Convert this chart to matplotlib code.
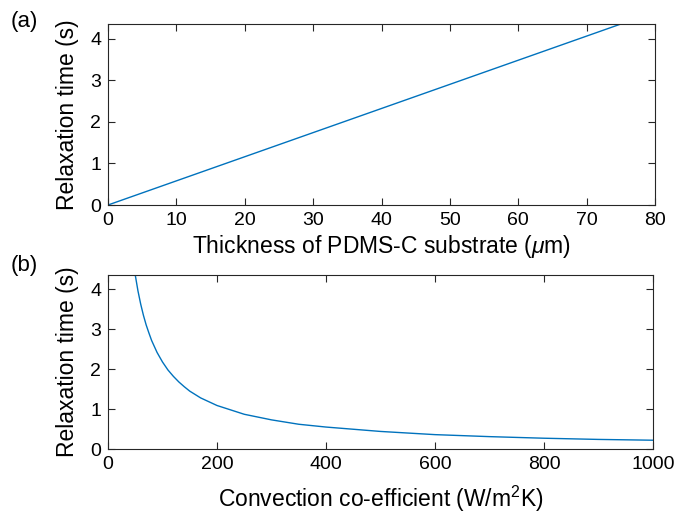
import numpy as np
import matplotlib
matplotlib.use("Agg")
import matplotlib.pyplot as plt

# panel (a): thickness (um) vs relaxation time (s)
thickness = [0, 80]
tau_thick = [0, 4.65]

# panel (b): convection coefficient (W/m^2K) vs relaxation time (s)
conv_h = [45, 50, 55, 60, 65, 70, 75, 80, 90, 100, 110, 120, 130, 140, 150, 170,
          200, 250, 300, 350, 400, 500, 600, 700, 800, 900, 1000]
tau_conv = [4.84, 4.36, 3.96, 3.63, 3.35, 3.11, 2.91, 2.72, 2.42, 2.18, 1.98, 1.82,
            1.68, 1.56, 1.45, 1.28, 1.09, 0.87, 0.73, 0.62, 0.55, 0.44, 0.36, 0.31,
            0.27, 0.24, 0.22]

plt.rcParams["font.family"] = ["Liberation Sans", "DejaVu Sans"]
plt.rcParams["font.size"] = 14
plt.rcParams["mathtext.fontset"] = "custom"
plt.rcParams["mathtext.it"] = "Liberation Sans:italic"
plt.rcParams["mathtext.rm"] = "Liberation Sans"

blue = "#0072BD"
fig = plt.figure(figsize=(6.76, 5.15), dpi=100)
W, H = 676, 515
ax1 = fig.add_axes([108 / W, 1 - 205 / H, (655 - 108) / W, (205 - 24) / H])
ax2 = fig.add_axes([108 / W, 1 - 449 / H, (653 - 108) / W, (449 - 275) / H])

lab = 16.5
ax1.plot(thickness, tau_thick, color=blue, lw=1.0)
ax1.set_xlim(0, 80)
ax1.set_ylim(0, 4.36)
ax1.set_xticks(range(0, 81, 10))
ax1.set_yticks(range(0, 5))
ax1.set_xlabel(r"Thickness of PDMS-C substrate ($\mu$m)", fontsize=lab, labelpad=3)
ax1.set_ylabel("Relaxation time (s)", fontsize=lab, labelpad=8)

ax2.plot(conv_h, tau_conv, color=blue, lw=1.0)
ax2.set_xlim(0, 1000)
ax2.set_ylim(0, 4.36)
ax2.set_xticks(range(0, 1001, 200))
ax2.set_yticks(range(0, 5))
ax2.set_xlabel(r"Convection co-efficient (W/m$^2$K)", fontsize=lab, labelpad=8)
ax2.set_ylabel("Relaxation time (s)", fontsize=lab, labelpad=8)

for ax in (ax1, ax2):
    ax.tick_params(direction="in", top=True, right=True, length=5, width=0.8,
                   color="#262626", labelcolor="black", pad=5)
    for s in ax.spines.values():
        s.set_color("#262626")
        s.set_linewidth(0.8)

fig.text(11 / W, 1 - 22 / H, "(a)", fontsize=16, va="center")
fig.text(11 / W, 1 - 266 / H, "(b)", fontsize=16, va="center")

fig.savefig("out.png", dpi=100)
